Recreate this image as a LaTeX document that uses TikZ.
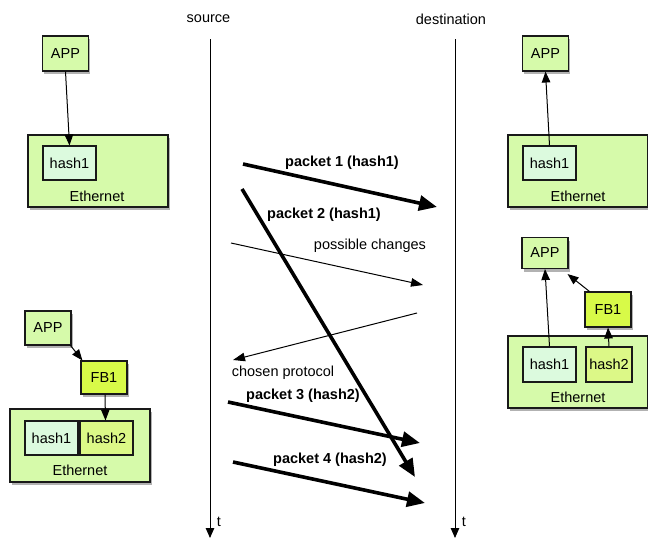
\documentclass[tikz,border=0pt]{standalone}
\usepackage{fontspec}
\setmainfont{Liberation Sans}
\usetikzlibrary{arrows.meta,shadows}
\definecolor{boxgreen}{RGB}{214,250,170}
\definecolor{hashone}{RGB}{220,250,222}
\definecolor{fbyellow}{RGB}{216,250,72}
\definecolor{hashtwo}{RGB}{220,248,135}
\tikzset{
  shad/.style={drop shadow={shadow xshift=1.5pt, shadow yshift=-3pt, fill=black, opacity=0.3}},
  box/.style={draw=black!90, line width=1.1pt, inner sep=0pt, fill=boxgreen, shad},
  hashonebox/.style={draw=black!90, line width=1.1pt, inner sep=0pt, fill=hashone, minimum width=53pt, minimum height=34pt},
  hashtwobox/.style={draw=black!90, line width=1.1pt, inner sep=0pt, fill=hashtwo, minimum height=34pt},
  fbbox/.style={box, fill=fbyellow, minimum width=46pt, minimum height=34pt},
  appbox/.style={box, minimum width=46pt, minimum height=35pt},
  ethbox/.style={box, minimum width=140pt, minimum height=72pt},
  txt/.style={inner sep=0pt, font=\fontsize{14.5}{17}\selectfont},
  btxt/.style={inner sep=0pt, font=\fontsize{14.5}{17}\selectfont\bfseries},
  conn/.style={line width=1pt, -{Triangle[length=11pt,width=8.5pt]}},
  timeline/.style={line width=1pt, -{Triangle[length=10pt,width=8.5pt]}},
  thick arrow/.style={line width=3.6pt, -{Triangle[length=18pt,width=15pt]}},
  thin arrow/.style={line width=1pt, -{Triangle[length=12pt,width=8.5pt]}},
}
\begin{document}
\begin{tikzpicture}[x=1pt,y=-1pt, every node/.append style={font=\fontsize{14.5}{17}\selectfont}]
\useasboundingbox (0,0) rectangle (648,538);

% timelines
\node[txt] (src) at (208.5,19) {source};
\node[txt] (dst) at (451,19) {destination};
\coordinate (s0) at (210,39);
\coordinate (s1) at (210,538);
\coordinate (d0) at (455,39);
\coordinate (d1) at (455,538);
\draw[timeline] (s0) -- (s1);
\draw[timeline] (d0) -- (d1);
\node[txt] (ts) at (219,522) {t};
\node[txt] (td) at (464,522) {t};

% top-left
\node[appbox, minimum height=35pt] (tlapp) at (65.5,53.5) {APP};
\node[ethbox] (tleth) at (98,171) {};
\node[hashonebox] (tlh1) at (69.5,163) {hash1};
\node[txt] (tlethl) at (97,196) {Ethernet};
\draw[conn] (tlapp.south) -- (tlh1.north);

% top-right
\node[appbox, minimum height=35pt] (trapp) at (545.5,53.5) {APP};
\node[ethbox] (treth) at (578,171) {};
\node[hashonebox] (trh1) at (549.5,163) {hash1};
\node[txt] (trethl) at (578,196) {Ethernet};
\draw[conn] (trh1.north) -- (trapp.south);

% right-middle
\node[appbox, minimum height=31pt] (rmapp) at (545,253) {APP};
\node[fbbox, minimum height=35pt] (rmfb) at (608,309.5) {FB1};
\node[ethbox] (rmeth) at (578,372) {};
\node[hashonebox, minimum height=35pt] (rmh1) at (549.5,364.5) {hash1};
\node[hashtwobox, minimum width=46pt, minimum height=35pt] (rmh2) at (609,364.5) {hash2};
\node[txt] (rmethl) at (578,397) {Ethernet};
\draw[conn] (rmh1.north) -- (rmapp.south);
\draw[conn] ([xshift=5pt]rmfb.north west) -- ([xshift=-1pt,yshift=-5pt]rmapp.south east);
\draw[conn] (rmh2.north) -- (rmfb.south);

% bottom-left
\node[appbox, minimum height=34pt] (blapp) at (48,328) {APP};
\node[fbbox, minimum height=33pt] (blfb) at (104,377.5) {FB1};
\node[ethbox, minimum height=73pt] (bleth) at (80,445.5) {};
\node[hashonebox] (blh1) at (51.5,438) {hash1};
\node[hashtwobox, minimum width=53pt] (blh2) at (106.5,438) {hash2};
\node[txt] (blethl) at (80,470) {Ethernet};
\draw[conn] ([xshift=-1pt]blapp.south east) -- ([xshift=2pt]blfb.north west);
\draw[conn] ([xshift=1pt]blfb.south) -- ([xshift=-1pt]blh2.north);

% messages
\coordinate (p1a) at (243,164);
\coordinate (p1b) at (437,207);
\draw[thick arrow] (p1a) -- (p1b);
\node[btxt] (p1l) at (342,163) {packet 1 (hash1)};

\coordinate (p2a) at (242,189);
\coordinate (p2b) at (415,477);
\draw[thick arrow] (p2a) -- (p2b);
\node[btxt] (p2l) at (324,215) {packet 2 (hash1)};

\coordinate (pca) at (231,243);
\coordinate (pcb) at (423,285);
\draw[thin arrow] (pca) -- (pcb);
\node[txt] (pcl) at (370,246) {possible changes};

\coordinate (cpa) at (417,313);
\coordinate (cpb) at (233,360);
\draw[thin arrow] (cpa) -- (cpb);
\node[txt] (cpl) at (283,373) {chosen protocol};

\coordinate (p3a) at (228,402);
\coordinate (p3b) at (420,443);
\draw[thick arrow] (p3a) -- (p3b);
\node[btxt] (p3l) at (303,396) {packet 3 (hash2)};

\coordinate (p4a) at (233,462);
\coordinate (p4b) at (425,503);
\draw[thick arrow] (p4a) -- (p4b);
\node[btxt] (p4l) at (330,460) {packet 4 (hash2)};
\end{tikzpicture}
\end{document}
